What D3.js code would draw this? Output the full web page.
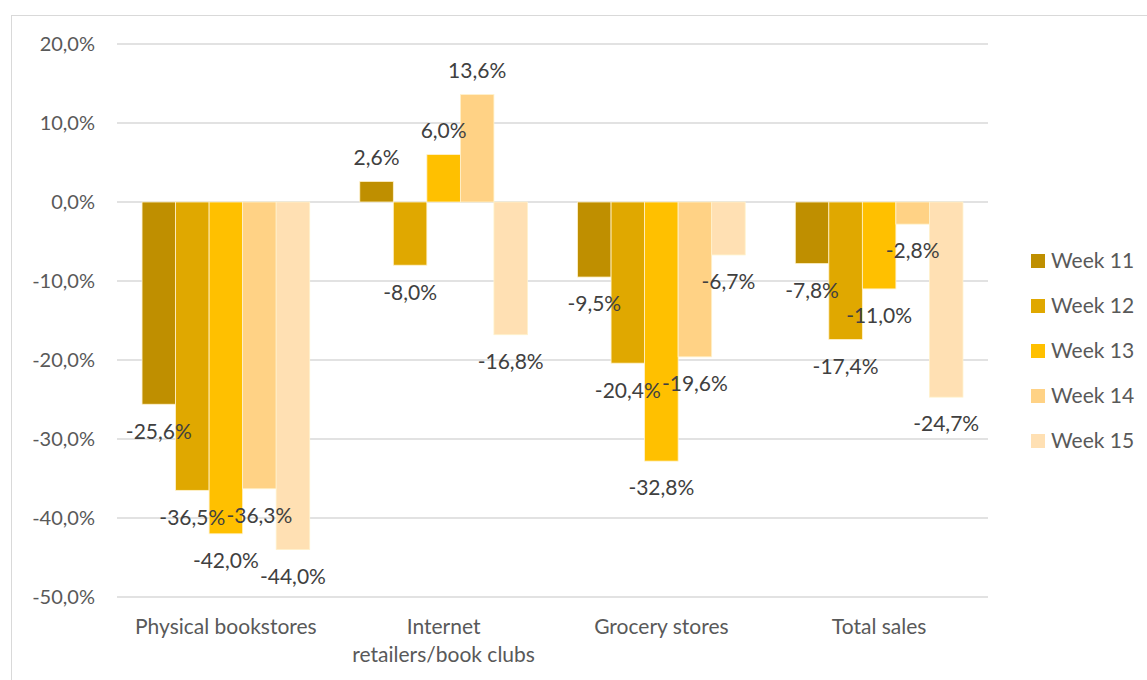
<!DOCTYPE html>
<html>
<head>
<meta charset="utf-8">
<script src="https://cdn.jsdelivr.net/npm/d3@7"></script>
<style>
  body { margin: 0; background: #fff; }
  svg { font-family: Lato, "Noto Sans", sans-serif; }
</style>
</head>
<body>
<svg id="chart" width="1147" height="680"></svg>
<script>
// Categories and weekly changes (%)
const categories = ["Physical bookstores", "Internet\nretailers/book clubs", "Grocery stores", "Total sales"];
const weeks = ["Week 11", "Week 12", "Week 13", "Week 14", "Week 15"];
const week11 = [-25.6, 2.6, -9.5, -7.8];
const week12 = [-36.5, -8.0, -20.4, -17.4];
const week13 = [-42.0, 6.0, -32.8, -11.0];
const week14 = [-36.3, 13.6, -19.6, -2.8];
const week15 = [-44.0, -16.8, -6.7, -24.7];
const yTicks = [20, 10, 0, -10, -20, -30, -40, -50];
const colors = ["#BF8F00", "#E0A800", "#FFC000", "#FFD285", "#FFE0B3"];

const series = [week11, week12, week13, week14, week15];

const svg = d3.select("#chart");

// chart border
svg.append("rect")
  .attr("x", 11.5).attr("y", 15.5)
  .attr("width", 1200).attr("height", 700)
  .attr("fill", "none").attr("stroke", "#d9d9d9");

const x0 = d3.scaleBand()
  .domain(categories)
  .range([117, 988])
  .paddingInner(0.23)
  .paddingOuter(0.115);

const x1 = d3.scaleBand()
  .domain(weeks)
  .range([0, x0.bandwidth()]);

const y = d3.scaleLinear().domain([-50, 20]).range([597, 44]);

const fmt = v => v.toFixed(1).replace(".", ",") + "%";

// gridlines
svg.append("g")
  .selectAll("line")
  .data(yTicks)
  .join("line")
  .attr("x1", 117).attr("x2", 988)
  .attr("y1", d => y(d)).attr("y2", d => y(d))
  .attr("stroke", "#d9d9d9").attr("stroke-width", 1.3);

// y axis labels
svg.append("g")
  .selectAll("text")
  .data(yTicks)
  .join("text")
  .attr("x", 95)
  .attr("y", d => y(d))
  .attr("dy", "0.35em")
  .attr("text-anchor", "end")
  .attr("font-size", 20)
  .attr("fill", "#595959")
  .text(fmt);

// flatten the data: one record per bar
const bars = [];
categories.forEach((c, ci) => {
  weeks.forEach((w, wi) => {
    bars.push({ cat: c, week: w, value: series[wi][ci], color: colors[wi] });
  });
});

const bx = d => x0(d.cat) + x1(d.week);

svg.append("g")
  .selectAll("rect")
  .data(bars)
  .join("rect")
  .attr("x", bx)
  .attr("width", x1.bandwidth())
  .attr("y", d => y(Math.max(0, d.value)))
  .attr("height", d => Math.abs(y(d.value) - y(0)))
  .attr("fill", d => d.color)
  .attr("stroke", "#fff2cc")
  .attr("stroke-width", 0.8);

// value labels on top of all bars
svg.append("g")
  .selectAll("text")
  .data(bars)
  .join("text")
  .attr("x", d => bx(d) + x1.bandwidth() / 2)
  .attr("y", d => d.value >= 0 ? y(d.value) - 24 : y(d.value) + 27)
  .attr("dy", "0.35em")
  .attr("text-anchor", "middle")
  .attr("font-size", 21)
  .attr("fill", "#404040")
  .text(d => fmt(d.value));

// category labels
svg.append("g")
  .selectAll("text")
  .data(categories)
  .join("text")
  .attr("x", d => x0(d) + x0.bandwidth() / 2)
  .attr("y", 627)
  .attr("text-anchor", "middle")
  .attr("font-size", 21)
  .attr("fill", "#595959")
  .each(function (d) {
    d.split("\n").forEach((line, i) => {
      d3.select(this).append("tspan")
        .attr("x", x0(d) + x0.bandwidth() / 2)
        .attr("dy", i === 0 ? "0.35em" : 28)
        .text(line);
    });
  });

// legend
const legend = svg.append("g")
  .selectAll("g")
  .data(weeks)
  .join("g")
  .attr("transform", (d, i) => `translate(1031,${261 + i * 45})`);

legend.append("rect")
  .attr("x", 0).attr("y", -7)
  .attr("width", 14).attr("height", 14)
  .attr("fill", (d, i) => colors[i]);

legend.append("text")
  .attr("x", 20)
  .attr("dy", "0.35em")
  .attr("font-size", 21)
  .attr("fill", "#595959")
  .text(d => d);
</script>
</body>
</html>
